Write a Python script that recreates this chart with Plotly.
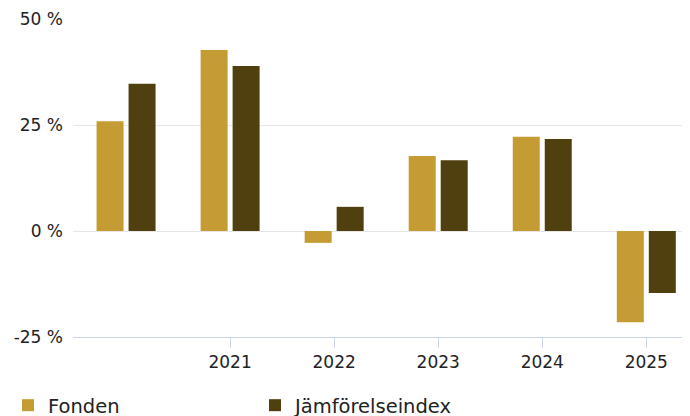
import plotly.graph_objects as go

years = [2020, 2021, 2022, 2023, 2024, 2025]
tick_years = [2021, 2022, 2023, 2024, 2025]
tick_labels = ["2021", "2022", "2023", "2024", "2025"]
fonden = [25.9, 42.7, -2.8, 17.7, 22.2, -21.5]
index_vals = [34.7, 38.9, 5.7, 16.7, 21.7, -14.6]
y_ticks = [-25, 0, 25, 50]
y_tick_labels = ["-25 %", "0 %", "25 %", "50 %"]

gold = "#C49C33"
brown = "#50400F"

fig = go.Figure()
fig.add_trace(go.Bar(x=years, y=fonden, name="Fonden", marker=dict(color=gold, line=dict(width=0))))
fig.add_trace(go.Bar(x=years, y=index_vals, name="Jämförelseindex", marker=dict(color=brown, line=dict(width=0))))

# page body has an 8px default margin; compensate so the plot lands where the reference has it
fig.update_layout(
    width=690, height=424,
    margin=dict(l=65, r=8, t=11, b=95, autoexpand=False),
    paper_bgcolor="white", plot_bgcolor="white",
    barmode="group", bargap=0.385, bargroupgap=0.156,
    font=dict(family="DejaVu Sans", size=17, color="#222"),
    showlegend=True,
    legend=dict(orientation="h", xref="container", yref="container",
                x=-0.003, xanchor="left", y=0.1085, yanchor="top",
                font=dict(size=19.5, color="#222"), entrywidth=202, entrywidthmode="pixels",
                bgcolor="rgba(0,0,0,0)", traceorder="normal"),
)
fig.update_xaxes(
    range=[2019.49, 2025.42], tickmode="array", tickvals=tick_years, ticktext=tick_labels,
    showgrid=False, zeroline=False, showline=True, linecolor="#ccd6eb", linewidth=1,
    ticks="outside", ticklen=10, tickcolor="#ccd6eb", tickwidth=1,
    tickfont=dict(size=17, color="#222"), fixedrange=True, automargin=False,
)
fig.update_yaxes(
    range=[-25, 50], tickmode="array", tickvals=y_ticks, ticktext=y_tick_labels,
    showgrid=True, gridcolor="#e6e6e6", gridwidth=1, zeroline=False,
    showline=False, ticks="", ticklabelstandoff=9,
    tickfont=dict(size=17, color="#222"), fixedrange=True, automargin=False,
)

fig.write_html("out.html")
